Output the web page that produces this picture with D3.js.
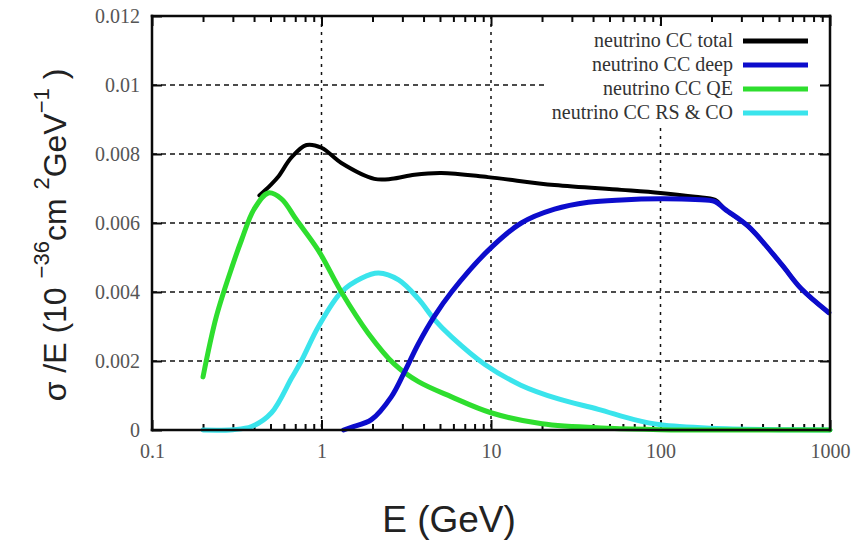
<!DOCTYPE html>
<html>
<head>
<meta charset="utf-8">
<script src="https://cdn.jsdelivr.net/npm/d3@7"></script>
<style>
  html, body { margin: 0; padding: 0; background: #fff; }
  svg { display: block; }
</style>
</head>
<body>
<svg id="chart" width="855" height="543"></svg>
<script>
// ---- data ----
const xTickValues = [0.1, 1, 10, 100, 1000];
const xTickLabels = ["0.1", "1", "10", "100", "1000"];
const yTickValues = [0, 0.002, 0.004, 0.006, 0.008, 0.01, 0.012];
const yTickLabels = ["0", "0.002", "0.004", "0.006", "0.008", "0.01", "0.012"];

const seriesNames = ["neutrino CC total", "neutrino CC deep", "neutrino CC QE", "neutrino CC RS & CO"];

const totalE = [0.43, 0.5, 0.557, 0.665, 0.816, 1, 1.31, 2.05, 2.6, 3.54, 5.1, 9.6, 23.7, 58.9, 100, 160, 210, 240, 330, 518, 675, 985];
const totalV = [0.0068, 0.0071, 0.00735, 0.0079, 0.00826, 0.00818, 0.00774, 0.00728, 0.00728, 0.0074, 0.00745, 0.00733, 0.0071, 0.00696, 0.00687, 0.00676, 0.00667, 0.0064, 0.0059, 0.0048, 0.0041, 0.0034];

const deepE = [1.35, 1.5, 1.97, 2.58, 3.1, 3.73, 4.64, 5.85, 9.6, 15.1, 23.7, 37.5, 58.9, 100, 160, 210, 240, 330, 518, 675, 985];
const deepV = [0, 0.00008, 0.0003, 0.00096, 0.0017, 0.0025, 0.0033, 0.004, 0.0052, 0.006, 0.0064, 0.0066, 0.00667, 0.0067, 0.00668, 0.00662, 0.0064, 0.0059, 0.0048, 0.0041, 0.0034];

const qeE = [0.2, 0.24, 0.3, 0.337, 0.4, 0.486, 0.58, 0.71, 0.96, 1.31, 1.89, 2.7, 3.73, 5.85, 10, 20, 50, 100, 300, 1000];
const qeV = [0.00154, 0.0033, 0.0048, 0.0055, 0.0064, 0.00687, 0.0067, 0.0061, 0.0052, 0.004, 0.0028, 0.0019, 0.0014, 0.00096, 0.0005, 0.00018, 0.00005, 0.00001, 0, 0];

const rsE = [0.2, 0.3, 0.387, 0.507, 0.665, 0.76, 0.96, 1.31, 1.72, 2.17, 2.85, 3.73, 4.64, 5.85, 9.2, 15, 25, 43, 70, 100, 200, 500, 1000];
const rsV = [0, 0.00001, 0.0001, 0.0005, 0.0015, 0.002, 0.003, 0.004, 0.0044, 0.00455, 0.00435, 0.0038, 0.0032, 0.0027, 0.0019, 0.0013, 0.0009, 0.0006, 0.0003, 0.00015, 0.00005, 0.00001, 0];

// ---- layout ----
const svg = d3.select("#chart");
const L = 152, R = 830, T = 16, B = 430;
const INK = "#0a0a0a";

const x = d3.scaleLog().domain([0.1, 1000]).range([L, R]);
const y = d3.scaleLinear().domain([0, 0.012]).range([B, T]);

// grid
const grid = svg.append("g");
grid.selectAll("line.h").data(yTickValues.slice(1, -1)).enter().append("line")
  .attr("x1", L).attr("x2", R).attr("y1", d => y(d)).attr("y2", d => y(d))
  .attr("stroke", "#111111").attr("stroke-width", 1.5).attr("stroke-dasharray", "5,4");
grid.selectAll("line.v").data(xTickValues.slice(1, -1)).enter().append("line")
  .attr("y1", T).attr("y2", B).attr("x1", d => x(d)).attr("x2", d => x(d))
  .attr("stroke", "#111111").attr("stroke-width", 1.5).attr("stroke-dasharray", "3,5");

// legend key box (opaque, hides grid beneath it)
svg.append("rect").attr("x", 548).attr("y", 26).attr("width", 280).attr("height", 100).attr("fill", "#ffffff");

// minor x ticks
const minor = [];
for (let dec = 0.1; dec < 1000; dec *= 10) {
  for (let k = 2; k <= 9; k++) minor.push(+(dec * k).toPrecision(3));
}

function styleAxis(g) {
  g.select(".domain").remove();
  g.selectAll(".tick line").attr("stroke", INK).attr("stroke-width", 2);
}

svg.append("g").attr("transform", `translate(0,${B})`)
  .call(d3.axisBottom(x).tickValues(minor).tickSize(-6).tickFormat(""))
  .call(styleAxis);
svg.append("g").attr("transform", `translate(0,${T})`)
  .call(d3.axisTop(x).tickValues(minor).tickSize(-6).tickFormat(""))
  .call(styleAxis);
svg.append("g").attr("transform", `translate(0,${B})`)
  .call(d3.axisBottom(x).tickValues(xTickValues).tickSize(-10).tickPadding(14)
    .tickFormat((d, i) => xTickLabels[i]))
  .call(styleAxis)
  .call(g => g.selectAll("text").attr("font-family", "'Liberation Serif', 'DejaVu Serif', serif")
    .attr("font-size", 20).attr("fill", "#555555"));
svg.append("g").attr("transform", `translate(0,${T})`)
  .call(d3.axisTop(x).tickValues(xTickValues).tickSize(-10).tickFormat(""))
  .call(styleAxis);
svg.append("g").attr("transform", `translate(${L},0)`)
  .call(d3.axisLeft(y).tickValues(yTickValues).tickSize(-10).tickPadding(12)
    .tickFormat((d, i) => yTickLabels[i]))
  .call(styleAxis)
  .call(g => g.selectAll("text").attr("font-family", "'Liberation Serif', 'DejaVu Serif', serif")
    .attr("font-size", 20).attr("fill", "#555555"));
svg.append("g").attr("transform", `translate(${R},0)`)
  .call(d3.axisRight(y).tickValues(yTickValues).tickSize(-10).tickFormat(""))
  .call(styleAxis);

// curves
const line = d3.line().x(d => x(d[0])).y(d => y(d[1])).curve(d3.curveCatmullRom.alpha(0.5));
const zip = (a, b) => a.map((v, i) => [v, b[i]]);

const colors = ["#000000", "#0c0ccc", "#2ede2e", "#3ae4ec"];
const widths = [4, 5, 5, 5];
const seriesData = [zip(totalE, totalV), zip(deepE, deepV), zip(qeE, qeV), zip(rsE, rsV)];
const drawOrder = [0, 3, 2, 1];

const plot = svg.append("g");
drawOrder.forEach(i => {
  plot.append("path").datum(seriesData[i])
    .attr("fill", "none").attr("stroke", colors[i]).attr("stroke-width", widths[i])
    .attr("stroke-linejoin", "round").attr("stroke-linecap", "round")
    .attr("d", line);
});

// frame as four filled bars
const fw = 2.5;
const frame = svg.append("g").attr("class", "frame");
[[L - fw / 2, T - fw / 2, R - L + fw, fw],
 [L - fw / 2, B - fw / 2, R - L + fw, fw],
 [L - fw / 2, T - fw / 2, fw, B - T + fw],
 [R - fw / 2, T - fw / 2, fw, B - T + fw]].forEach(r => {
  frame.append("rect").attr("x", r[0]).attr("y", r[1]).attr("width", r[2]).attr("height", r[3])
    .attr("fill", INK);
});

// legend
const leg = svg.append("g");
seriesNames.forEach((name, i) => {
  const ly = 41 + i * 24;
  leg.append("text").attr("x", 733).attr("y", ly + 6).attr("text-anchor", "end")
    .attr("font-family", "'Liberation Serif', 'DejaVu Serif', serif").attr("font-size", 20)
    .attr("fill", "#333333").text(name);
  leg.append("line").attr("x1", 743).attr("x2", 808).attr("y1", ly).attr("y2", ly)
    .attr("stroke", colors[i]).attr("stroke-width", 5);
});

// axis titles
svg.append("text").attr("x", 449).attr("y", 532).attr("text-anchor", "middle")
  .attr("font-family", "'Liberation Sans', Arial, sans-serif").attr("font-size", 37)
  .attr("fill", "#222222").text("E (GeV)");

const yt = svg.append("text")
  .attr("transform", "translate(66,235) rotate(-90)")
  .attr("text-anchor", "middle")
  .attr("font-family", "'Liberation Sans', Arial, sans-serif").attr("font-size", 32)
  .attr("fill", "#222222");
yt.append("tspan").text("σ /E (10 ");
yt.append("tspan").attr("dy", -17).attr("font-size", 22).text("−36");
yt.append("tspan").attr("dy", 17).text("cm ");
yt.append("tspan").attr("dy", -17).attr("font-size", 22).text("2");
yt.append("tspan").attr("dy", 17).text("GeV");
yt.append("tspan").attr("dy", -17).attr("font-size", 22).text("−1");
yt.append("tspan").attr("dy", 17).text(" )");
</script>
</body>
</html>
